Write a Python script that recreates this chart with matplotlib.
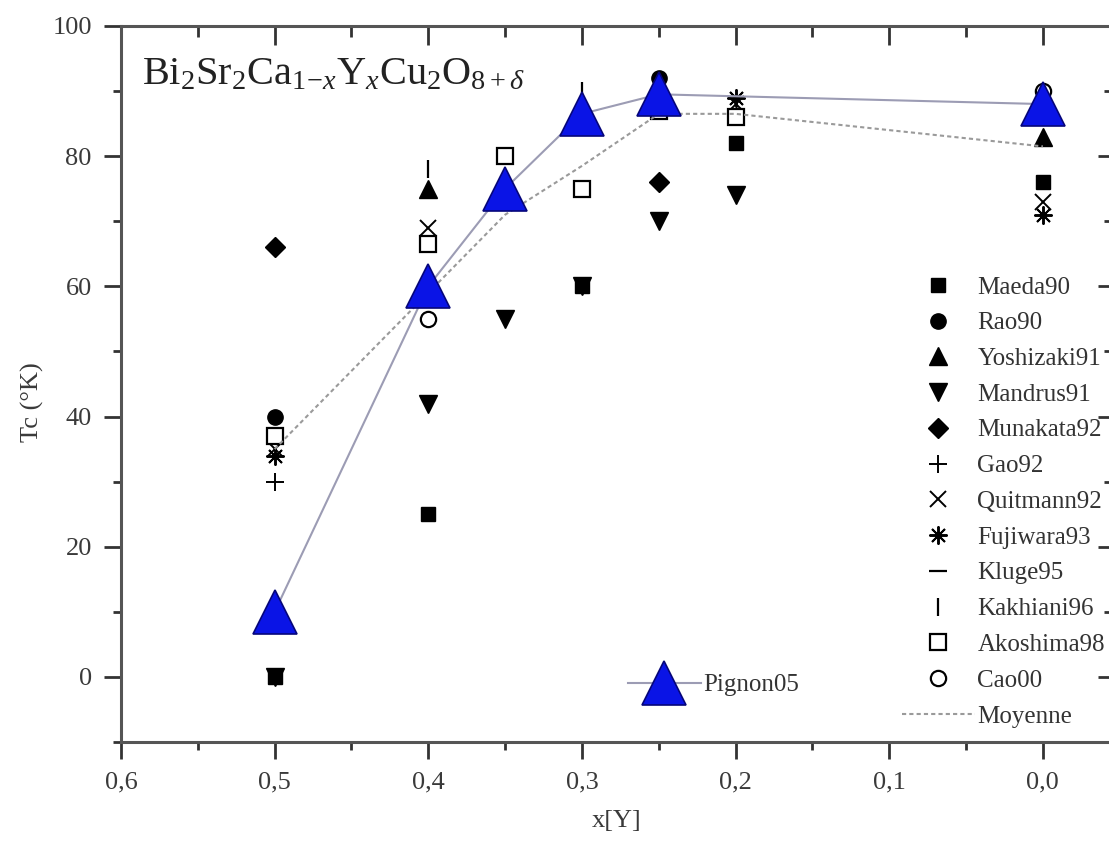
import matplotlib
matplotlib.use('Agg')
import matplotlib.pyplot as plt
from matplotlib.ticker import MultipleLocator, FuncFormatter

plt.rcParams['font.family'] = ['Liberation Serif', 'DejaVu Serif']
plt.rcParams['mathtext.fontset'] = 'custom'
plt.rcParams['mathtext.rm'] = 'Liberation Serif'
plt.rcParams['mathtext.it'] = 'Liberation Serif:italic'

# Tc values per reference (x = Y content)
maeda_x = [0.5, 0.4, 0.3, 0.2, 0.0]
maeda_y = [0, 25, 60, 82, 76]
rao_x = [0.5, 0.25]
rao_y = [40, 92]
yoshizaki_x = [0.4, 0.0]
yoshizaki_y = [75, 83]
mandrus_x = [0.5, 0.4, 0.35, 0.3, 0.25, 0.2]
mandrus_y = [0, 42, 55, 60, 70, 74]
munakata_x = [0.5, 0.25]
munakata_y = [66, 76]
gao_x = [0.5]
gao_y = [30]
quitmann_x = [0.5, 0.4, 0.2, 0.0]
quitmann_y = [35, 69, 88, 73]
fujiwara_x = [0.5, 0.2, 0.0]
fujiwara_y = [34, 89, 71]
kluge_x = [0.0]
kluge_y = [85]
kakhiani_x = [0.4, 0.3]
kakhiani_y = [78, 90]
akoshima_x = [0.5, 0.4, 0.35, 0.3, 0.25, 0.2]
akoshima_y = [37, 66.5, 80, 75, 87, 86]
cao_x = [0.4, 0.0]
cao_y = [55, 90]
pignon_x = [0.5, 0.4, 0.35, 0.3, 0.25, 0.0]
pignon_y = [10, 60, 75, 86.5, 89.5, 88]
moyenne_x = [0.5, 0.4, 0.35, 0.3, 0.25, 0.2, 0.0]
moyenne_y = [35, 59, 71, 78.5, 86.5, 86.5, 81.5]

fig = plt.figure(figsize=(11.09, 8.43), dpi=100)
ax = fig.add_axes([0.1091, 0.1198, 0.8936, 0.8494])

k = 'black'
h_maeda, = ax.plot(maeda_x, maeda_y, 's', color=k, ms=10, ls='none', label='Maeda90')
h_rao, = ax.plot(rao_x, rao_y, 'o', color=k, ms=11, ls='none', label='Rao90')
h_yosh, = ax.plot(yoshizaki_x, yoshizaki_y, '^', color=k, ms=13, ls='none', label='Yoshizaki91')
h_mand, = ax.plot(mandrus_x, mandrus_y, 'v', color=k, ms=13, ls='none', label='Mandrus91')
h_muna, = ax.plot(munakata_x, munakata_y, 'D', color=k, ms=10, ls='none', label='Munakata92')
h_gao, = ax.plot(gao_x, gao_y, '+', color=k, ms=13, mew=1.4, ls='none', label='Gao92')
h_quit, = ax.plot(quitmann_x, quitmann_y, 'x', color=k, ms=12, mew=1.4, ls='none', label='Quitmann92')
h_fuji, = ax.plot(fujiwara_x, fujiwara_y, marker=(8, 2, 0), color=k, ms=13, mew=1.4, ls='none', label='Fujiwara93')
h_klug, = ax.plot(kluge_x, kluge_y, '_', color=k, ms=13, mew=1.6, ls='none', label='Kluge95')
h_kakh, = ax.plot(kakhiani_x, kakhiani_y, '|', color=k, ms=13, mew=1.6, ls='none', label='Kakhiani96')
h_akos, = ax.plot(akoshima_x, akoshima_y, 's', mfc='white', mec=k, mew=1.6, ms=11, ls='none', label='Akoshima98')
h_cao, = ax.plot(cao_x, cao_y, 'o', mfc='white', mec=k, mew=1.6, ms=11, ls='none', label='Cao00')
h_moy, = ax.plot(moyenne_x, moyenne_y, color='#9a9a9a', lw=1.5, ls=(0, (2, 1.5)), label='Moyenne')
h_pig, = ax.plot(pignon_x, pignon_y, color='#9c9cb4', lw=1.5, marker='^', ms=32,
                 mfc='#0a14e6', mec='#06067a', mew=1.2, label='Pignon05')

ax.set_xlim(0.6, -0.045)
ax.set_ylim(-10, 100)
ax.xaxis.set_major_locator(MultipleLocator(0.1))
ax.xaxis.set_minor_locator(MultipleLocator(0.05))
ax.yaxis.set_major_locator(MultipleLocator(20))
ax.yaxis.set_minor_locator(MultipleLocator(10))
ax.xaxis.set_major_formatter(FuncFormatter(lambda v, p: f'{abs(v):.1f}'.replace('.', ',')))

for s in ax.spines.values():
    s.set_color('#555555')
    s.set_linewidth(2.2)
ax.tick_params(which='major', direction='out', length=12, width=2, color='#333333',
               labelsize=19, labelcolor='#3a3a3a', pad=9)
ax.tick_params(which='minor', direction='out', length=6, width=2, color='#333333')

# mirrored ticks pointing inward on top and right
top = ax.secondary_xaxis('top')
top.xaxis.set_major_locator(MultipleLocator(0.1))
top.xaxis.set_minor_locator(MultipleLocator(0.05))
top.tick_params(which='major', direction='in', length=14, width=2, color='#333333', labeltop=False)
top.tick_params(which='minor', direction='in', length=8, width=2, color='#333333')
top.spines['top'].set_visible(False)
right = ax.secondary_yaxis('right')
right.yaxis.set_major_locator(MultipleLocator(20))
right.yaxis.set_minor_locator(MultipleLocator(10))
right.tick_params(which='major', direction='in', length=10, width=2, color='#333333', labelright=False)
right.tick_params(which='minor', direction='in', length=6, width=2, color='#333333')
right.spines['right'].set_visible(False)

ax.set_xlabel('x[Y]', fontsize=19, color='#3a3a3a', labelpad=12)
ax.set_ylabel('Tc (°K)', fontsize=19, color='#3a3a3a', labelpad=12)
ax.yaxis.set_label_coords(-0.078, 0.475)

ax.text(0.021, 0.958, r'Bi$_2$Sr$_2$Ca$_{1\!-\!x}$Y$_x$Cu$_2$O$_{8+\delta}$', transform=ax.transAxes,
        fontsize=29, va='top', ha='left', color='#222222')

leg1 = ax.legend(handles=[h_maeda, h_rao, h_yosh, h_mand, h_muna, h_gao, h_quit, h_fuji,
                          h_klug, h_kakh, h_akos, h_cao, h_moy],
                 loc='upper left', bbox_to_anchor=(902 / 1109, 1 - 276 / 843),
                 bbox_transform=fig.transFigure, frameon=False, fontsize=18,
                 handlelength=2.9, handletextpad=0.12, labelspacing=0.53,
                 borderpad=0, borderaxespad=0, labelcolor='#333333')
ax.add_artist(leg1)
ax.legend(handles=[h_pig], loc='upper left', bbox_to_anchor=(628 / 1109, 1 - 674 / 843),
          bbox_transform=fig.transFigure, frameon=False, fontsize=18,
          handlelength=2.9, handletextpad=0.12, borderpad=0, borderaxespad=0,
          labelcolor='#333333')

fig.savefig('out.png', dpi=100)
